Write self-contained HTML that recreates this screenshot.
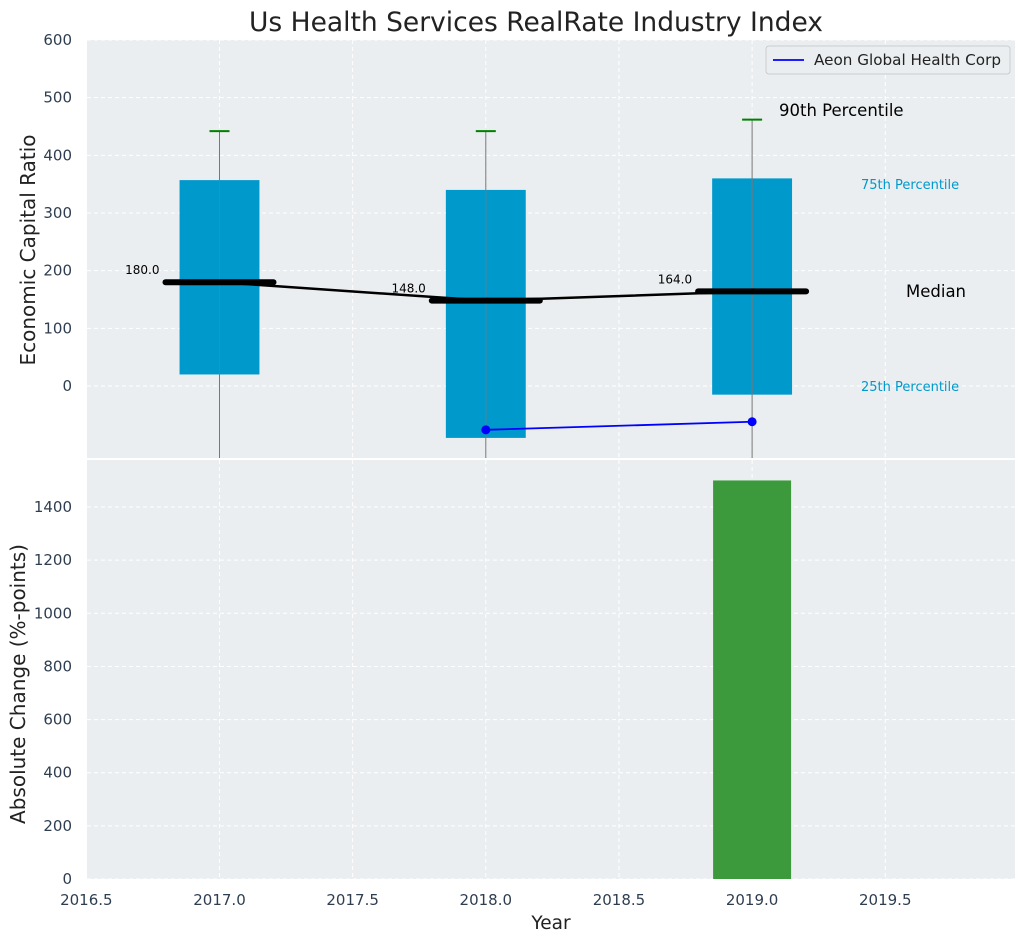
<!DOCTYPE html>
<html><head><meta charset="utf-8"><style>
body{margin:0;background:#fff;font-family:"Liberation Sans","DejaVu Sans",sans-serif;}
svg text{font-family:"DejaVu Sans","Liberation Sans",sans-serif;}
</style></head><body>
<svg id="chart" width="1026" height="942" xmlns="http://www.w3.org/2000/svg"></svg>
<script>
const years=[2017,2018,2019];
const q25=[20,-90,-15];
const q75=[357,340,360];
const p90=[442,442,462];
const medians=[180,148,164];
const aeonYears=[2018,2019];
const aeonValues=[-76,-62];
const changeYears=[2019];
const changeValues=[1500];
const xTicks=[2016.5,2017.0,2017.5,2018.0,2018.5,2019.0,2019.5];
const yTopTicks=[0,100,200,300,400,500,600];
const yBotTicks=[0,200,400,600,800,1000,1200,1400];

const svg=document.getElementById('chart');
const NS='http://www.w3.org/2000/svg';
function mk(tag,attrs,name,parent){const e=document.createElementNS(NS,tag);for(const k in attrs)e.setAttribute(k,attrs[k]);


(parent||svg).appendChild(e);return e;}
const L=87,R=1015;
const X=v=>219.5+(v-2017)*266.3;
const T0=40,T1=458,B0=460,B1=879;
const YT=v=>386-v*0.5767;
const YB=v=>879-v*0.2657;
mk('rect',{x:L,y:T0,width:R-L,height:T1-T0,fill:'#eaeef0'},'top-plot-area');
mk('rect',{x:L,y:B0,width:R-L,height:B1-B0,fill:'#eaeef0'},'bottom-plot-area');
xTicks.forEach(t=>{const x=X(t);
mk('line',{x1:x,x2:x,y1:T0,y2:T1,stroke:'#fff','stroke-dasharray':'4,3','stroke-width':1},'top-x-grid');
mk('line',{x1:x,x2:x,y1:B0,y2:B1,stroke:'#fff','stroke-dasharray':'4,3','stroke-width':1},'bottom-x-grid');
const t1=mk('text',{x:x,y:905,'text-anchor':'middle','font-size':15,fill:'#2e3e50'},'x-tick-label');t1.textContent=t.toFixed(1);});
yTopTicks.forEach(t=>{const y=YT(t);
mk('line',{x1:L,x2:R,y1:y,y2:y,stroke:'#fff','stroke-dasharray':'4,3'},'top-y-grid');
const e=mk('text',{x:72,y:y+5,'text-anchor':'end','font-size':15,fill:'#2e3e50'},'top-y-tick-label');e.textContent=t;});
yBotTicks.forEach(t=>{const y=YB(t);
mk('line',{x1:L,x2:R,y1:y,y2:y,stroke:'#fff','stroke-dasharray':'4,3'},'bottom-y-grid');
const e=mk('text',{x:72,y:y+5,'text-anchor':'end','font-size':15,fill:'#2e3e50'},'bottom-y-tick-label');e.textContent=t;});
const hw=0.15*266.3;
years.forEach((yr,i)=>{const x=X(yr);
mk('rect',{x:x-hw,y:YT(q75[i]),width:2*hw,height:YT(q25[i])-YT(q75[i]),fill:'#0099cc'},'box-'+yr);
mk('line',{x1:x,x2:x,y1:T1,y2:YT(p90[i]),stroke:'#777','stroke-width':1},'whisker-'+yr);
mk('line',{x1:x-10,x2:x+10,y1:YT(p90[i]),y2:YT(p90[i]),stroke:'green','stroke-width':2},'p90-cap-'+yr);
});
let pts=years.map((yr,i)=>X(yr)+','+YT(medians[i])).join(' ');
mk('polyline',{points:pts,fill:'none',stroke:'#000','stroke-width':2.5},'median-line');
years.forEach((yr,i)=>{const x=X(yr),y=YT(medians[i]);
mk('line',{x1:x-54,x2:x+54,y1:y,y2:y,stroke:'#000','stroke-width':6,'stroke-linecap':'round'},'median-marker-'+yr);
const e=mk('text',{x:x-60,y:y-8,'text-anchor':'end','font-size':12,fill:'#000'},'median-label-'+yr);e.textContent=medians[i].toFixed(1);});
mk('polyline',{points:aeonYears.map((y,i)=>X(y)+','+YT(aeonValues[i])).join(' '),fill:'none',stroke:'blue','stroke-width':1.8},'aeon-line');
aeonYears.forEach((y,i)=>mk('circle',{cx:X(y),cy:YT(aeonValues[i]),r:4.5,fill:'blue'},'aeon-point'));
changeYears.forEach((y,i)=>mk('rect',{x:X(y)-39,y:YB(changeValues[i]),width:78,height:YB(0)-YB(changeValues[i]),fill:'#3c9a3c'},'change-bar-'+y));
let a=mk('text',{x:779,y:116,'font-size':16.5,fill:'#000'},'p90-annotation');a.textContent='90th Percentile';
a=mk('text',{x:861,y:189,'font-size':13,fill:'#0099cc'},'p75-annotation');a.textContent='75th Percentile';
a=mk('text',{x:906,y:297,'font-size':16.5,fill:'#000'},'median-annotation');a.textContent='Median';
a=mk('text',{x:861,y:391,'font-size':13,fill:'#0099cc'},'p25-annotation');a.textContent='25th Percentile';
const lg=mk('g',{},'legend');
mk('rect',{x:766,y:46,width:244,height:28,rx:3,fill:'#eaeef0',stroke:'#ccc'},'legend-box',lg);
mk('line',{x1:773,x2:804,y1:60,y2:60,stroke:'blue','stroke-width':1.8},'legend-swatch',lg);
a=mk('text',{x:814,y:65,'font-size':15.2,fill:'#222'},'legend-entry',lg);a.textContent='Aeon Global Health Corp';
a=mk('text',{x:536,y:31,'text-anchor':'middle','font-size':26.5,fill:'#222'},'chart-title');a.textContent='Us Health Services RealRate Industry Index';
a=mk('text',{x:551,y:929,'text-anchor':'middle','font-size':18.5,fill:'#222'},'x-axis-title');a.textContent='Year';
a=mk('text',{x:35,y:250,'text-anchor':'middle','font-size':20,fill:'#222',transform:'rotate(-90 35 250)'},'top-y-axis-title');a.textContent='Economic Capital Ratio';
a=mk('text',{x:25,y:684,'text-anchor':'middle','font-size':20,fill:'#222',transform:'rotate(-90 25 684)'},'bottom-y-axis-title');a.textContent='Absolute Change (%-points)';
</script>
</body></html>
